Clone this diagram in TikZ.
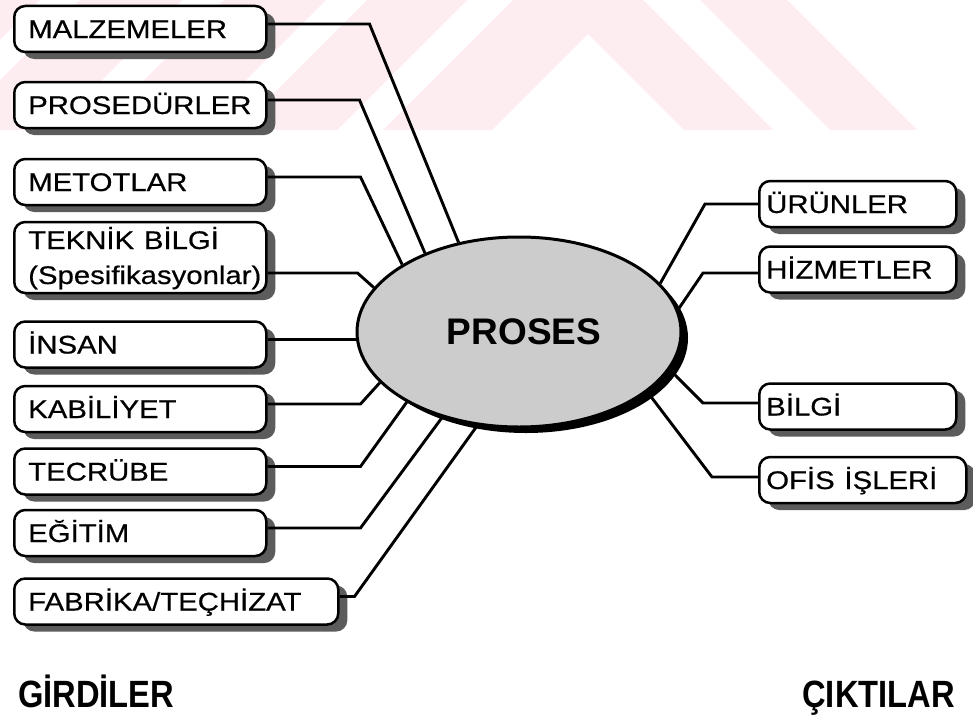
\documentclass[tikz,border=0pt]{standalone}
\usepackage{graphicx}
\usepackage{fontspec}
\setmainfont{Liberation Sans}
\newfontfamily\labelface[FakeBold=0.5]{Liberation Sans}
\usetikzlibrary{shapes.geometric,shadows}

\definecolor{wmpink}{RGB}{253,237,240}
\definecolor{ovalfill}{gray}{0.80}
\definecolor{boxshade}{gray}{0.36}

\newcommand{\boxfont}{\labelface\fontsize{25.5}{35}\selectfont}
\newcommand{\wide}[1]{\scalebox{1.15}[1]{#1}}
\newcommand{\narrowtitle}[1]{\scalebox{0.86}[1]{#1}}

\tikzset{
  box/.style={draw, line width=2.5pt, rounded corners=11pt, fill=white,
    minimum height=46pt, inner ysep=0pt, text height=18pt, text depth=0pt,
    align=left, font=\boxfont,
    drop shadow={shadow xshift=9pt, shadow yshift=-7pt, fill=boxshade, opacity=1}},
  lbox/.style={box, anchor=west, inner xsep=14pt, text width=224pt},
  rbox/.style={box, anchor=west, inner xsep=7pt, text width=183pt},
  conn/.style={line width=2.9pt},
  title/.style={font=\bfseries\fontsize{38}{42}\selectfont, inner sep=0pt},
}

\begin{document}
\begin{tikzpicture}[x=1pt,y=-1pt]
\useasboundingbox (0,0) rectangle (973,717);

% faint chevron stripes along the top edge
\begin{scope}
  \clip (0,0) rectangle (973,130);
  \fill[wmpink] (513,0) -- (643,0) -- (773,130) -- (684,130) -- (588,34)
    -- (492,130) -- (383,130) -- cycle;
  \fill[wmpink] (367,0) -- (467,0) -- (337,130) -- (237,130) -- cycle;
  \fill[wmpink] (700,0) -- (787,0) -- (917,130) -- (830,130) -- cycle;
  \fill[wmpink] (224,0) -- (326,0) -- (196,130) -- (94,130) -- cycle;
  \fill[wmpink] (80,0) -- (182,0) -- (52,130) -- (-50,130) -- cycle;
  \fill[wmpink] (-60,0) -- (40,0) -- (-90,130) -- (-190,130) -- cycle;
\end{scope}

% central process
\node[ellipse, draw, line width=3pt, fill=ovalfill, minimum width=324pt,
  minimum height=190pt, inner sep=0pt, font=\bfseries\fontsize{37}{40}\selectfont,
  drop shadow={shadow xshift=7pt, shadow yshift=-6pt, fill=black, opacity=1}]
  (proses) at (519,332) {\kern10pt PROSES};

% inputs
\node[lbox] (mal) at (13,29)    {\wide{MALZEMELER}};
\node[lbox] (pro) at (13,105)   {\wide{PROSEDÜRLER}};
\node[lbox] (met) at (13,182)   {\wide{METOTLAR}};
\node[lbox, minimum height=71pt, text depth=35pt] (tek) at (13,257.5)
  {\wide{TEKNİK BİLGİ}\\\wide{(Spesifikasyonlar)}};
\node[lbox] (ins) at (13,344.5) {\wide{İNSAN}};
\node[lbox] (kab) at (13,409)   {\wide{KABİLİYET}};
\node[lbox] (tec) at (13,471.5) {\wide{TECRÜBE}};
\node[lbox] (egi) at (13,533)   {\wide{EĞİTİM}};
\node[lbox, text width=296pt] (fab) at (13,601.5) {\wide{FABRİKA/TEÇHİZAT}};

% outputs
\node[rbox] (urn) at (758,204)   {\wide{ÜRÜNLER}};
\node[rbox] (hiz) at (758,269.5) {\wide{HİZMETLER}};
\node[rbox] (blg) at (758,406.5) {\wide{BİLGİ}};
\node[rbox, text width=193pt] (ofs) at (758,480) {\wide{OFİS İŞLERİ}};

% connectors into the process
\draw[conn] ([yshift=5pt]mal.east) -- ++(102,0) -- (proses.124);
\draw[conn] ([yshift=5pt]pro.east) -- ++(92,0) -- (proses.140);
\draw[conn] ([yshift=5pt]met.east) -- ++(93,0) -- (proses.150);
\draw[conn] ([yshift=-15.5pt]tek.east) -- ++(90,0) -- (proses.163);
\draw[conn] ([yshift=5pt]ins.east) -- ([yshift=-7.5pt]proses.west);
\draw[conn] ([yshift=5pt]kab.east) -- ++(93,0) -- (proses.200);
\draw[conn] ([yshift=5pt]tec.east) -- ++(93,0) -- (proses.212);
\draw[conn] ([yshift=5pt]egi.east) -- ++(93,0) -- (proses.228);
\draw[conn] ([yshift=5pt]fab.east) -- ++(15,0) -- (proses.246);

% connectors out of the process
\draw[conn] (urn.west) -- ++(-53,0) -- (proses.19);
\draw[conn] ([yshift=-3.5pt]hiz.west) -- ++(-55,0) -- (proses.8);
\draw[conn] ([yshift=3.5pt]blg.west) -- ++(-55,0) -- (proses.346);
\draw[conn] ([yshift=3pt]ofs.west) -- ++(-46,0) -- (proses.335);

% column headings
\node[title, anchor=base west] (gir) at (18,707) {\narrowtitle{GİRDİLER}};
\node[title, anchor=base east] (cik) at (955,707) {\narrowtitle{ÇIKTILAR}};
\end{tikzpicture}
\end{document}
